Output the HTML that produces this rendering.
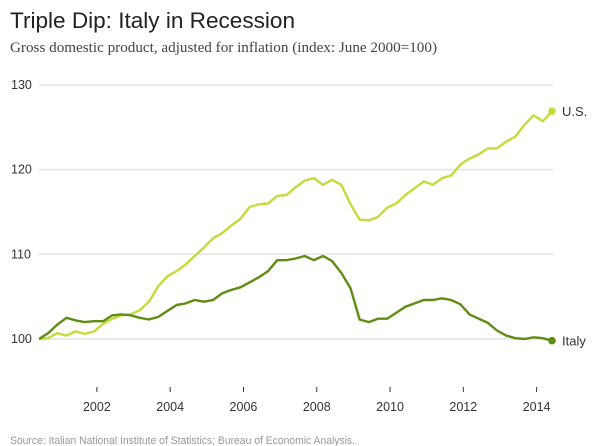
<!DOCTYPE html>
<html><head><meta charset="utf-8"><style>
html,body{margin:0;padding:0;background:#fff;}
svg{display:block;font-family:"Liberation Sans",sans-serif;}
</style></head><body>
<svg id="chart" width="600" height="446" viewBox="0 0 600 446">
<text x="10" y="28" font-size="22" fill="#222" textLength="285" lengthAdjust="spacingAndGlyphs">Triple Dip: Italy in Recession</text>
<text x="10" y="52" font-size="15" fill="#444" font-family="Liberation Serif, serif" textLength="427" lengthAdjust="spacingAndGlyphs">Gross domestic product, adjusted for inflation (index: June 2000=100)</text>
<g id="grid"></g><g id="xaxis"></g><g id="series"></g>
<text x="10" y="444" font-size="11" fill="#999" textLength="345" lengthAdjust="spacingAndGlyphs">Source: Italian National Institute of Statistics; Bureau of Economic Analysis.</text>
</svg>
<script>
const yTicks = [100, 110, 120, 130];
const xTickYears = [2002, 2004, 2006, 2008, 2010, 2012, 2014];
const usValues = [100,100.1,100.7,100.4,100.9,100.6,100.9,101.8,102.4,102.8,102.9,103.4,104.4,106.2,107.4,108.0,108.8,109.8,110.8,111.9,112.5,113.4,114.2,115.6,115.9,116.0,116.9,117.0,117.9,118.7,119.0,118.2,118.8,118.2,115.9,114.1,114.0,114.4,115.5,116.0,117.0,117.8,118.6,118.2,119.0,119.3,120.6,121.3,121.8,122.5,122.5,123.3,123.9,125.3,126.4,125.7,126.9];
const italyValues = [100,100.7,101.7,102.5,102.2,102.0,102.1,102.1,102.8,102.9,102.8,102.5,102.3,102.6,103.3,104.0,104.2,104.6,104.4,104.6,105.4,105.8,106.1,106.7,107.3,108.0,109.3,109.3,109.5,109.8,109.3,109.8,109.2,107.8,106.0,102.3,102.0,102.4,102.4,103.1,103.8,104.2,104.6,104.6,104.8,104.6,104.1,102.9,102.4,101.9,101.0,100.4,100.1,100.0,100.2,100.1,99.8];
const startYear = 2000.42, stepYears = 0.25;
const ns = "http://www.w3.org/2000/svg";
const x0 = 39, x1 = 552, n = usValues.length;
const xScale = yr => x0 + (yr - startYear) / (stepYears * (n - 1)) * (x1 - x0);
const yScale = v => 339 - (v - 100) * 8.47;
function mk(tag, attrs, parent){const e=document.createElementNS(ns,tag);for(const k in attrs)e.setAttribute(k,attrs[k]);parent.appendChild(e);return e;}
const grid=document.getElementById('grid');
yTicks.forEach(t=>{
  const l=mk('line',{x1:39,x2:553,y1:yScale(t),y2:yScale(t),stroke:'#e4e4e4','stroke-width':1.5},grid);
  
  
  const tx=mk('text',{x:11,y:yScale(t)+4,'font-size':12.5,fill:'#333'},grid);
  tx.textContent=t;
  
  
});
const xa=document.getElementById('xaxis');
xTickYears.forEach(yr=>{
  const x=xScale(yr);
  const l=mk('line',{x1:x,x2:x,y1:387,y2:392,stroke:'#333','stroke-width':1},xa);
  
  
  const tx=mk('text',{x:x,y:411,'font-size':12.5,fill:'#333','text-anchor':'middle'},xa);
  tx.textContent=yr;
  
  
});
const sg=document.getElementById('series');
function drawSeries(vals,color,name,label){
  const pts=vals.map((v,i)=>xScale(startYear+i*stepYears).toFixed(1)+','+yScale(v).toFixed(1)).join(' ');
  const p=mk('polyline',{points:pts,fill:'none',stroke:color,'stroke-width':2.4,'stroke-linejoin':'round'},sg);
  
  
  const lx=xScale(startYear+(vals.length-1)*stepYears), ly=yScale(vals[vals.length-1]);
  const c=mk('circle',{cx:lx,cy:ly,r:3.8,fill:color},sg);
  
  
  const t=mk('text',{x:lx+10,y:ly+5,'font-size':13,fill:'#333'},sg);
  t.textContent=label;
  
  
}
drawSeries(usValues,'#c2dc3a','us','U.S.');
drawSeries(italyValues,'#5f8d14','italy','Italy');
</script>
</body></html>
